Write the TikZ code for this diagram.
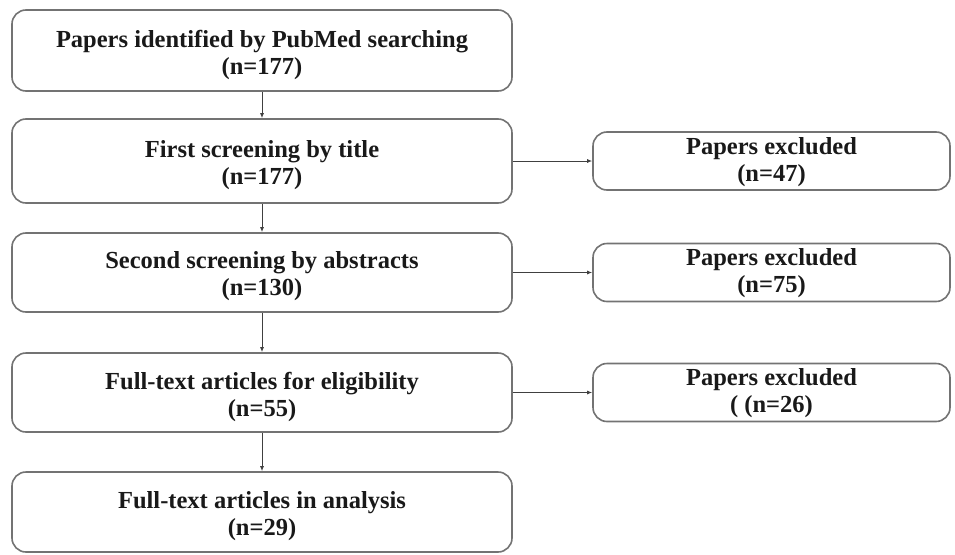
\documentclass[tikz,border=0pt]{standalone}
\usepackage{fontspec}
\setmainfont{Liberation Serif}
\usetikzlibrary{arrows.meta}
\begin{document}
\begin{tikzpicture}[x=1pt,y=-1pt,
  flowbox/.style={draw=black!55, line width=1.6pt, rounded corners=14pt, fill=white, inner sep=0pt},
  leftbox/.style={flowbox, minimum width=500pt},
  rightbox/.style={flowbox, minimum width=357pt, minimum height=58pt},
  boxtext/.style={align=center, font=\fontsize{24.5}{27}\selectfont\bfseries, text=black!90, inner sep=0pt},
  conn/.style={draw=black!75, line width=1pt, -{Latex[length=5pt,width=4pt]}}
]
\useasboundingbox (0,0) rectangle (955,554);
\node[leftbox, minimum height=81pt] (b1) at (262,50.5) {};
\node[leftbox, minimum height=84pt] (b2) at (262,161) {};
\node[leftbox, minimum height=79pt] (b3) at (262,272.5) {};
\node[leftbox, minimum height=79pt] (b4) at (262,392.5) {};
\node[leftbox, minimum height=80pt] (b5) at (262,512) {};
\node[rightbox] (r1) at (771.5,161) {};
\node[rightbox] (r2) at (771.5,272.5) {};
\node[rightbox] (r3) at (771.5,392.5) {};
\node[boxtext] (t1) at ([yshift=-4pt]b1.center) {Papers identified by PubMed searching\\(n=177)};
\node[boxtext] (t2) at ([yshift=-4pt]b2.center) {First screening by title\\(n=177)};
\node[boxtext] (t3) at ([yshift=-4pt]b3.center) {Second screening by abstracts\\(n=130)};
\node[boxtext] (t4) at ([yshift=-4pt]b4.center) {Full-text articles for eligibility\\(n=55)};
\node[boxtext] (t5) at ([yshift=-4pt]b5.center) {Full-text articles in analysis\\(n=29)};
\node[boxtext] (s1) at ([yshift=-1pt]r1.center) {Papers excluded\\(n=47)};
\node[boxtext] (s2) at ([yshift=-1pt]r2.center) {Papers excluded\\(n=75)};
\node[boxtext] (s3) at ([yshift=-1pt]r3.center) {Papers excluded\\( (n=26)};
\draw[conn] (b1) -- (b2);
\draw[conn] (b2) -- (b3);
\draw[conn] (b3) -- (b4);
\draw[conn] (b4) -- (b5);
\draw[conn] (b2) -- (r1);
\draw[conn] (b3) -- (r2);
\draw[conn] (b4) -- (r3);
\end{tikzpicture}
\end{document}
